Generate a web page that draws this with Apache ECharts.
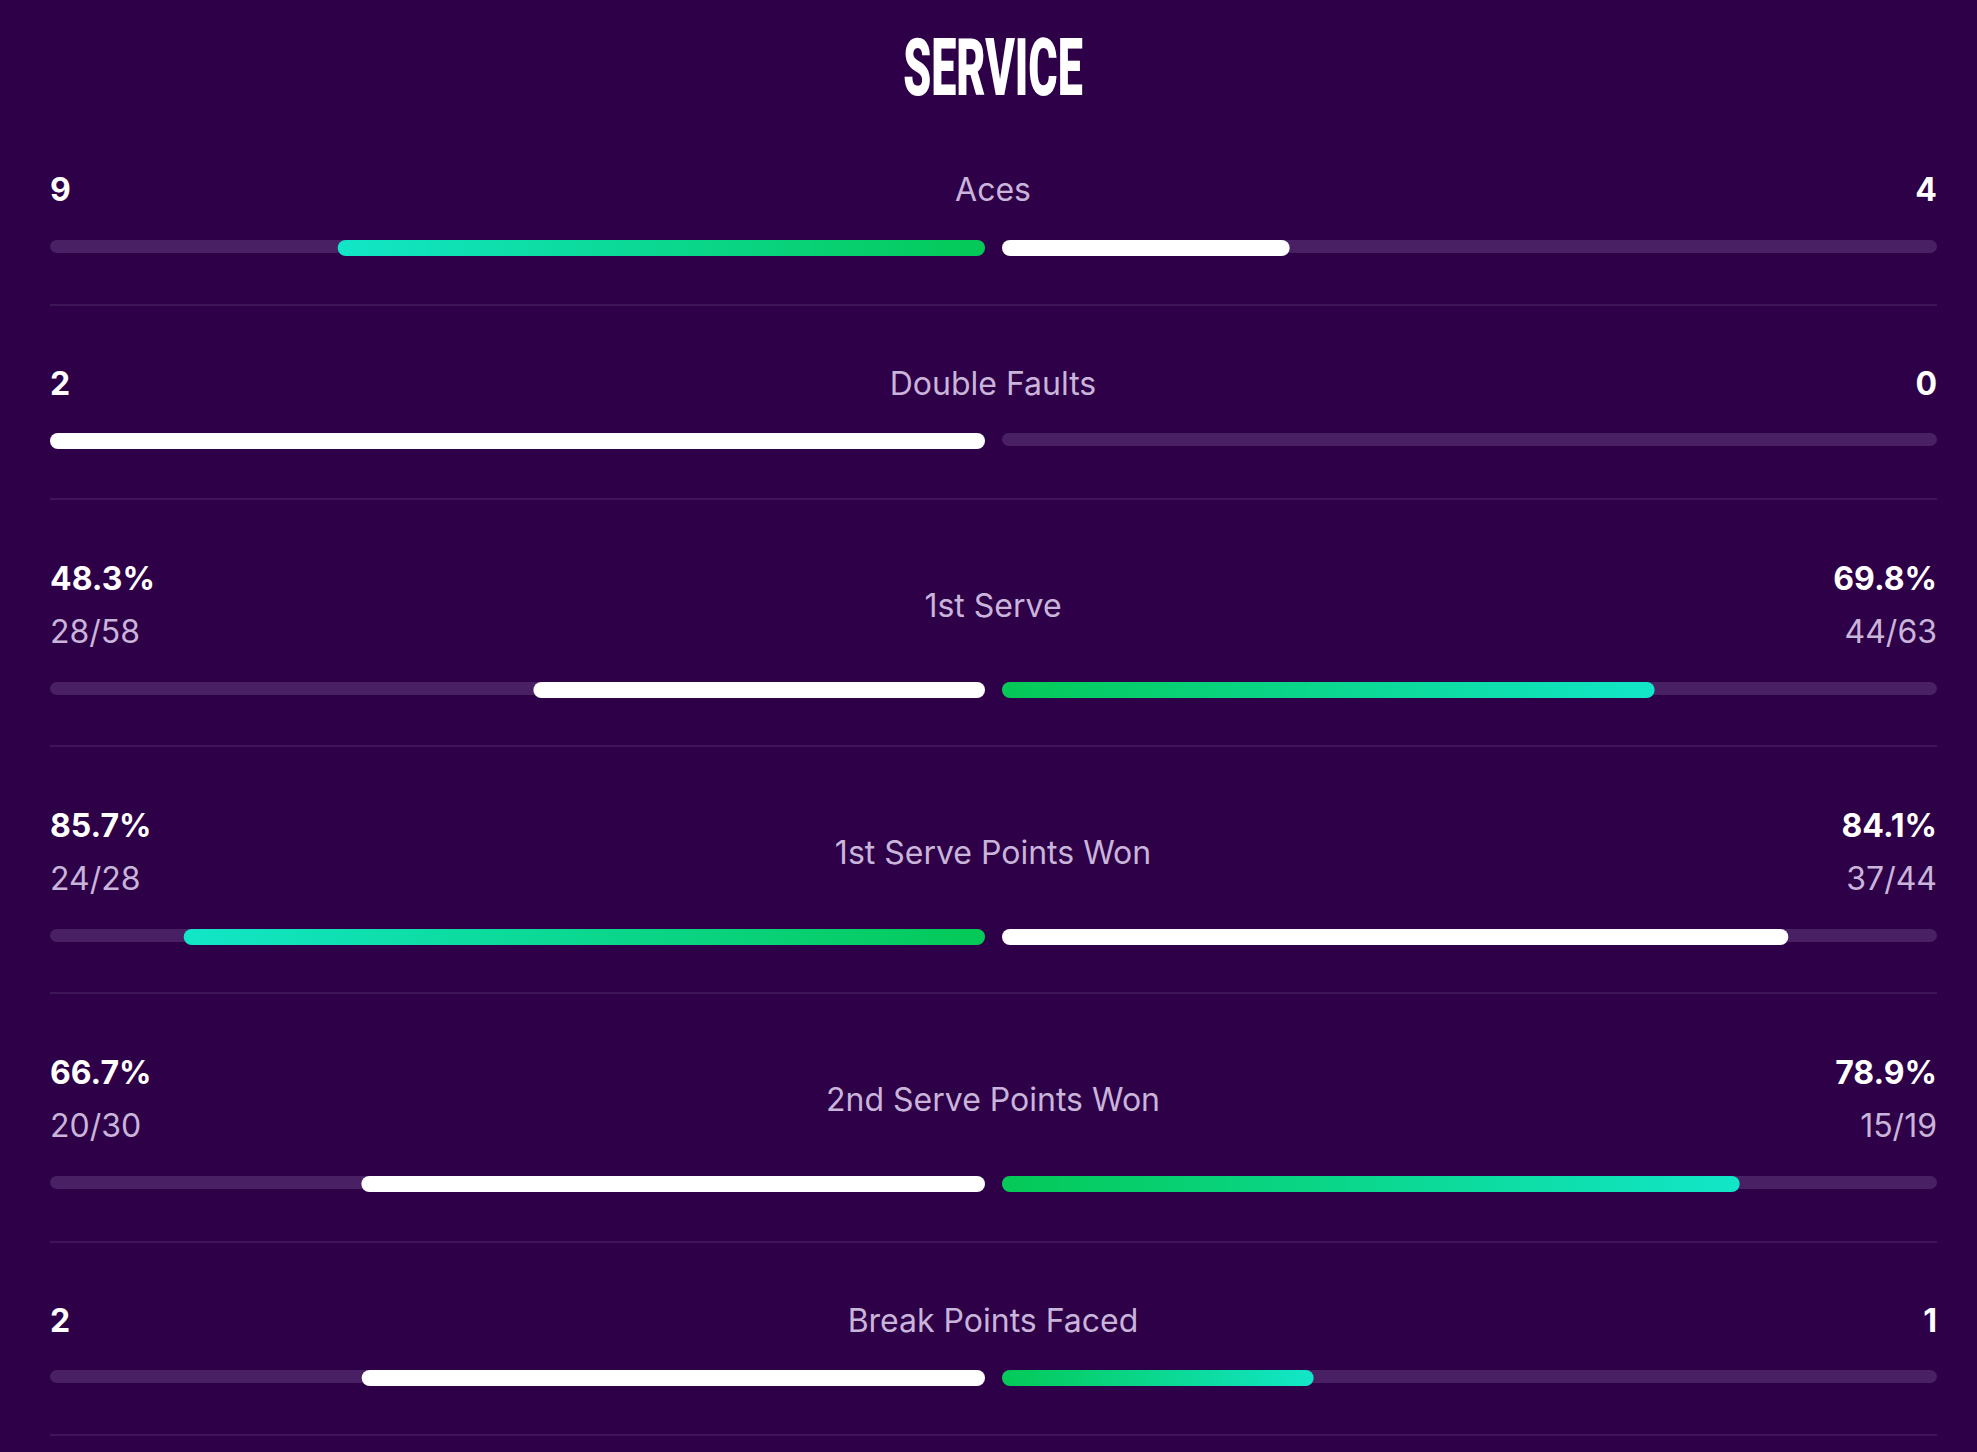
<!DOCTYPE html>
<html>
<head>
<meta charset="utf-8">
<script src="https://cdn.jsdelivr.net/npm/echarts@6/dist/echarts.min.js"></script>
<style>
  html, body { margin: 0; padding: 0; background: #2e0048; }
  #chart { width: 1977px; height: 1452px; }
</style>
</head>
<body>
<div id="chart"></div>
<script>
// stats, one entry per row
var categories = ['Aces', 'Double Faults', '1st Serve', '1st Serve Points Won', '2nd Serve Points Won', 'Break Points Faced'];
var leftValues = [9, 2, 48.3, 85.7, 66.7, 2];
var rightValues = [4, 0, 69.8, 84.1, 78.9, 1];
var leftFractions = ['', '', '28/58', '24/28', '20/30', ''];
var rightFractions = ['', '', '44/63', '37/44', '15/19', ''];
var lowerIsBetter = [false, true, false, false, false, true];

// layout
var barY = [248, 441, 690, 937, 1184, 1378];
var labelY = [189, 383, 605, 852, 1099, 1320];
var sepY = [305, 499, 746, 993, 1242, 1435];
var leftX = 50, rightX = 1002, sideW = 935, endX = 1937, midX = 993;

var bg = '#2e0048';
var trackColor = '#4a2064';
var labelColor = '#c9b4da';
var teal = '#12e6c8';
var green = '#04c957';

var chartDom = document.getElementById('chart');
var myChart = echarts.init(chartDom, null, { renderer: 'svg' });

function isPct(i) { return leftFractions[i] !== ''; }
function share(i, v) {
    if (isPct(i)) return v / 100;
    var s = leftValues[i] + rightValues[i];
    return s ? v / s : 0;
}
function fmt(i, v) { return isPct(i) ? v.toFixed(1) + '%' : String(v); }
function winner(i) {
    var l = leftValues[i], r = rightValues[i];
    if (l === r) return -1;
    if (lowerIsBetter[i]) return l < r ? 0 : 1;
    return l > r ? 0 : 1;
}

var grids = [], xAxes = [], yAxes = [], series = [], graphics = [];

categories.forEach(function (name, i) {
    [0, 1].forEach(function (side) {
        var g = grids.length;
        var val = side === 0 ? leftValues[i] : rightValues[i];
        grids.push({ left: side === 0 ? leftX : rightX, width: sideW, top: barY[i] - 10, height: 20 });
        xAxes.push({ type: 'value', gridIndex: g, min: 0, max: 1, inverse: side === 0, show: false });
        yAxes.push({ type: 'category', gridIndex: g, data: [name], show: false });
        var col = '#ffffff';
        if (winner(i) === side) {
            col = new echarts.graphic.LinearGradient(0, 0, 1, 0, side === 0
                ? [{ offset: 0, color: teal }, { offset: 1, color: green }]
                : [{ offset: 0, color: green }, { offset: 1, color: teal }]);
        }
        series.push({
            type: 'bar', xAxisIndex: g, yAxisIndex: g, silent: true,
            data: [1], barWidth: 13,
            itemStyle: { color: trackColor, borderRadius: 7 }
        });
        series.push({
            type: 'bar', xAxisIndex: g, yAxisIndex: g, silent: true,
            data: [share(i, val)], barWidth: 16, barGap: '-100%', z: 3,
            itemStyle: { color: col, borderRadius: 8 }
        });
    });

    graphics.push({
        type: 'text', x: midX, y: labelY[i],
        style: { text: name, fontFamily: 'Inter', fontSize: 32, fill: labelColor, align: 'center', verticalAlign: 'middle' }
    });
    var two = isPct(i);
    var vy = two ? labelY[i] - 27 : labelY[i];
    graphics.push({
        type: 'text', x: leftX, y: vy,
        style: { text: fmt(i, leftValues[i]), fontFamily: 'Inter', fontWeight: 'bold', fontSize: 32, fill: '#ffffff', align: 'left', verticalAlign: 'middle' }
    });
    graphics.push({
        type: 'text', x: endX, y: vy,
        style: { text: fmt(i, rightValues[i]), fontFamily: 'Inter', fontWeight: 'bold', fontSize: 32, fill: '#ffffff', align: 'right', verticalAlign: 'middle' }
    });
    if (two) {
        graphics.push({
            type: 'text', x: leftX, y: labelY[i] + 26,
            style: { text: leftFractions[i], fontFamily: 'Inter', fontSize: 32, fill: labelColor, align: 'left', verticalAlign: 'middle' }
        });
        graphics.push({
            type: 'text', x: endX, y: labelY[i] + 26,
            style: { text: rightFractions[i], fontFamily: 'Inter', fontSize: 32, fill: labelColor, align: 'right', verticalAlign: 'middle' }
        });
    }
    graphics.push({
        type: 'line', silent: true,
        shape: { x1: leftX, y1: sepY[i], x2: endX, y2: sepY[i] },
        style: { stroke: '#441e5c', lineWidth: 1.5 }
    });
});

graphics.push({
    type: 'text', x: midX, y: 68, scaleX: 0.56,
    style: { text: 'SERVICE', fontFamily: 'Roboto', fontWeight: 900, fontSize: 80, fill: '#ffffff', align: 'center', verticalAlign: 'middle' }
});

var option = {
    backgroundColor: bg,
    animation: false,
    grid: grids,
    xAxis: xAxes,
    yAxis: yAxes,
    series: series,
    graphic: graphics
};

option && myChart.setOption(option);
</script>
</body>
</html>
